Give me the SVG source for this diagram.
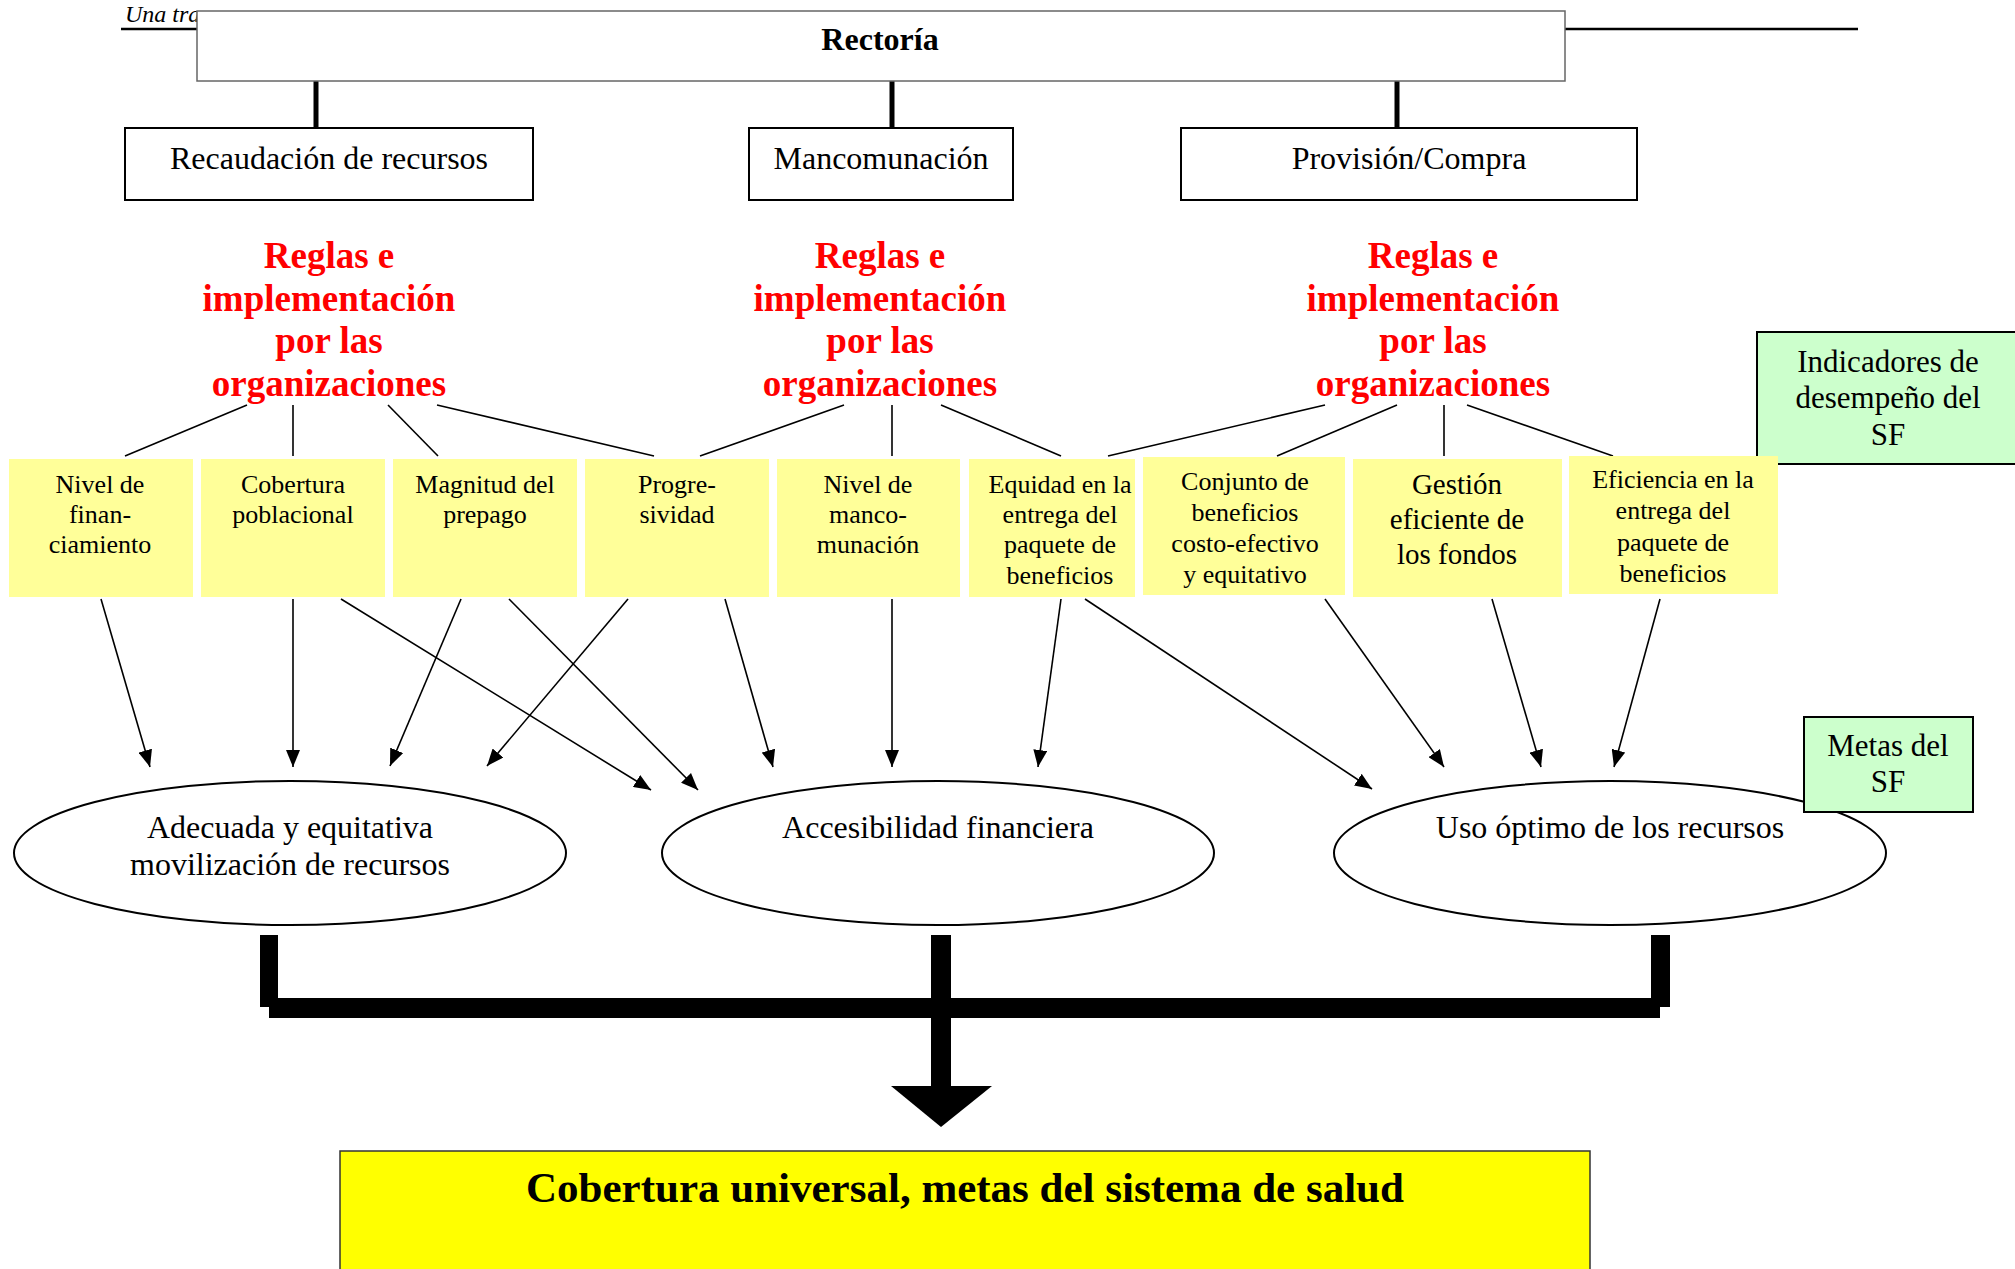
<svg xmlns="http://www.w3.org/2000/svg" width="2015" height="1269" viewBox="0 0 2015 1269">
<style>
.t{font-family:"Liberation Serif","Times New Roman",serif;fill:#000;text-anchor:middle}
.red{font-family:"Liberation Serif","Times New Roman",serif;fill:#FF0000;font-weight:bold;font-size:37px;text-anchor:middle}
.box{fill:#fff;stroke:#000;stroke-width:2}
.yel{fill:#FFFF99}
.grn{fill:#CCFFCC;stroke:#000;stroke-width:2}
.ell{fill:#fff;stroke:#000;stroke-width:2}
.ln{stroke:#000;stroke-width:1.6;fill:none}
.ar{stroke:#000;stroke-width:1.6;fill:none;marker-end:url(#ah)}
.tick{stroke:#000;stroke-width:5}
</style>
<defs>
<marker id="ah" markerUnits="userSpaceOnUse" markerWidth="18" markerHeight="14" refX="17" refY="7" orient="auto">
<path d="M0,0 L17,7 L0,14 Z" fill="#000"/>
</marker>
</defs>
<rect width="2015" height="1269" fill="#fff"/>
<g id="header">
<text x="125" y="22" font-family="Liberation Serif, serif" font-style="italic" font-size="24">Una tra</text>
<line x1="121" y1="29" x2="1858" y2="29" stroke="#000" stroke-width="2.5"/>
</g>
<g id="connectors">
<line class="tick" x1="316" y1="81" x2="316" y2="128"/>
<line class="tick" x1="892" y1="81" x2="892" y2="128"/>
<line class="tick" x1="1397" y1="81" x2="1397" y2="128"/>
<line class="ln" x1="247" y1="405" x2="125" y2="456"/>
<line class="ln" x1="293" y1="405" x2="293" y2="456"/>
<line class="ln" x1="388" y1="405" x2="438" y2="456"/>
<line class="ln" x1="437" y1="405" x2="654" y2="456"/>
<line class="ln" x1="844" y1="405" x2="700" y2="456"/>
<line class="ln" x1="892" y1="405" x2="892" y2="456"/>
<line class="ln" x1="941" y1="405" x2="1061" y2="456"/>
<line class="ln" x1="1325" y1="405" x2="1108" y2="456"/>
<line class="ln" x1="1397" y1="405" x2="1277" y2="456"/>
<line class="ln" x1="1444" y1="405" x2="1444" y2="456"/>
<line class="ln" x1="1467" y1="405" x2="1613" y2="456"/>
<line class="ar" x1="101" y1="599" x2="150" y2="767"/>
<line class="ar" x1="293" y1="599" x2="293" y2="767"/>
<line class="ar" x1="341" y1="599" x2="651" y2="790"/>
<line class="ar" x1="461" y1="599" x2="390" y2="766"/>
<line class="ar" x1="509" y1="599" x2="698" y2="790"/>
<line class="ar" x1="628" y1="599" x2="487" y2="766"/>
<line class="ar" x1="725" y1="599" x2="773" y2="767"/>
<line class="ar" x1="892" y1="599" x2="892" y2="767"/>
<line class="ar" x1="1061" y1="599" x2="1038" y2="767"/>
<line class="ar" x1="1085" y1="599" x2="1372" y2="789"/>
<line class="ar" x1="1325" y1="599" x2="1444" y2="767"/>
<line class="ar" x1="1492" y1="599" x2="1541" y2="767"/>
<line class="ar" x1="1660" y1="599" x2="1614" y2="767"/>
<rect x="260" y="935" width="18" height="72" fill="#000"/>
<rect x="931" y="935" width="20" height="153" fill="#000"/>
<rect x="1651" y="935" width="19" height="72" fill="#000"/>
<rect x="269" y="998" width="1391" height="20" fill="#000"/>
<polygon points="891,1086 992,1086 941,1127" fill="#000"/>
</g>
<g id="rectoria">
<rect x="197" y="11" width="1368" height="70" fill="#fff" stroke="#666" stroke-width="1.5"/>
<text class="t" x="880" y="50" font-size="32" font-weight="bold">Rectoría</text>
</g>
<g id="recaudacion">
<rect class="box" x="125" y="128" width="408" height="72"/>
<text class="t" x="329" y="169" font-size="32">Recaudación de recursos</text>
</g>
<g id="mancomunacion">
<rect class="box" x="749" y="128" width="264" height="72"/>
<text class="t" x="881" y="169" font-size="32">Mancomunación</text>
</g>
<g id="provision">
<rect class="box" x="1181" y="128" width="456" height="72"/>
<text class="t" x="1409" y="169" font-size="32">Provisión/Compra</text>
</g>
<g id="reglas1">
<text class="red" x="329" y="268">Reglas e</text>
<text class="red" x="329" y="311">implementación</text>
<text class="red" x="329" y="353">por las</text>
<text class="red" x="329" y="396">organizaciones</text>
</g>
<g id="reglas2">
<text class="red" x="880" y="268">Reglas e</text>
<text class="red" x="880" y="311">implementación</text>
<text class="red" x="880" y="353">por las</text>
<text class="red" x="880" y="396">organizaciones</text>
</g>
<g id="reglas3">
<text class="red" x="1433" y="268">Reglas e</text>
<text class="red" x="1433" y="311">implementación</text>
<text class="red" x="1433" y="353">por las</text>
<text class="red" x="1433" y="396">organizaciones</text>
</g>
<g id="indicadores">
<rect class="grn" x="1757" y="332" width="262" height="132"/>
<text class="t" x="1888" y="372" font-size="31">Indicadores de</text>
<text class="t" x="1888" y="408" font-size="31">desempeño del</text>
<text class="t" x="1888" y="445" font-size="31">SF</text>
</g>
<g id="b1">
<rect class="yel" x="9" y="459" width="184" height="138"/>
<text class="t" x="100" y="493" font-size="26">Nivel de</text>
<text class="t" x="100" y="523" font-size="26">finan-</text>
<text class="t" x="100" y="553" font-size="26">ciamiento</text>
</g>
<g id="b2">
<rect class="yel" x="201" y="459" width="184" height="138"/>
<text class="t" x="293" y="493" font-size="26">Cobertura</text>
<text class="t" x="293" y="523" font-size="26">poblacional</text>
</g>
<g id="b3">
<rect class="yel" x="393" y="459" width="184" height="138"/>
<text class="t" x="485" y="493" font-size="26">Magnitud del</text>
<text class="t" x="485" y="523" font-size="26">prepago</text>
</g>
<g id="b4">
<rect class="yel" x="585" y="459" width="184" height="138"/>
<text class="t" x="677" y="493" font-size="26">Progre-</text>
<text class="t" x="677" y="523" font-size="26">sividad</text>
</g>
<g id="b5">
<rect class="yel" x="777" y="459" width="183" height="138"/>
<text class="t" x="868" y="493" font-size="26">Nivel de</text>
<text class="t" x="868" y="523" font-size="26">manco-</text>
<text class="t" x="868" y="553" font-size="26">munación</text>
</g>
<g id="b6">
<rect class="yel" x="969" y="459" width="166" height="138"/>
<text class="t" x="1060" y="493" font-size="26">Equidad en la</text>
<text class="t" x="1060" y="523" font-size="26">entrega del</text>
<text class="t" x="1060" y="553" font-size="26">paquete de</text>
<text class="t" x="1060" y="584" font-size="26">beneficios</text>
</g>
<g id="b7">
<rect class="yel" x="1143" y="457" width="202" height="138"/>
<text class="t" x="1245" y="490" font-size="26">Conjunto de</text>
<text class="t" x="1245" y="521" font-size="26">beneficios</text>
<text class="t" x="1245" y="552" font-size="26">costo-efectivo</text>
<text class="t" x="1245" y="583" font-size="26">y equitativo</text>
</g>
<g id="b8">
<rect class="yel" x="1353" y="459" width="209" height="138"/>
<text class="t" x="1457" y="494" font-size="29">Gestión</text>
<text class="t" x="1457" y="529" font-size="29">eficiente de</text>
<text class="t" x="1457" y="564" font-size="29">los fondos</text>
</g>
<g id="b9">
<rect class="yel" x="1569" y="456" width="209" height="138"/>
<text class="t" x="1673" y="488" font-size="26">Eficiencia en la</text>
<text class="t" x="1673" y="519" font-size="26">entrega del</text>
<text class="t" x="1673" y="551" font-size="26">paquete de</text>
<text class="t" x="1673" y="582" font-size="26">beneficios</text>
</g>
<g id="e1">
<ellipse class="ell" cx="290" cy="853" rx="276" ry="72"/>
<text class="t" x="290" y="838" font-size="32">Adecuada y equitativa</text>
<text class="t" x="290" y="875" font-size="32">movilización de recursos</text>
</g>
<g id="e2">
<ellipse class="ell" cx="938" cy="853" rx="276" ry="72"/>
<text class="t" x="938" y="838" font-size="32">Accesibilidad financiera</text>
</g>
<g id="e3">
<ellipse class="ell" cx="1610" cy="853" rx="276" ry="72"/>
<text class="t" x="1610" y="838" font-size="32">Uso óptimo de los recursos</text>
</g>
<g id="metas">
<rect class="grn" x="1804" y="717" width="169" height="95"/>
<text class="t" x="1888" y="756" font-size="31">Metas del</text>
<text class="t" x="1888" y="792" font-size="31">SF</text>
</g>
<g id="cobertura">
<rect x="340" y="1151" width="1250" height="130" fill="#FFFF00" stroke="#333" stroke-width="1.5"/>
<text class="t" x="965" y="1202" font-size="43" font-weight="bold">Cobertura universal, metas del sistema de salud</text>
</g>
</svg>
